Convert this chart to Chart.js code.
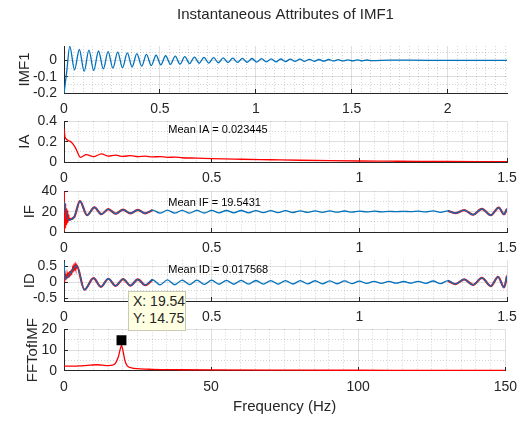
<!DOCTYPE html>
<html>
<head>
<meta charset="utf-8">
<script src="https://cdn.jsdelivr.net/npm/chart.js@4.4.0/dist/chart.umd.min.js"></script>
<style>
body { margin: 0; background: #fff; width: 529px; height: 421px; overflow: hidden; position: relative; }
canvas { position: absolute; left: 0; }
#tip { position: absolute; left: 128px; top: 291px; width: 58px; height: 40px; box-sizing: border-box;
       background: #ffffe1; border: 1px solid #c9c9b8; color: #262626; z-index: 5; white-space: nowrap;
       font: 14px "Liberation Sans", Arial, sans-serif; line-height: 17px; padding: 1px 0 0 4px; }
</style>
</head>
<body>
<canvas id="p1" width="529" height="123" style="top:0px"></canvas>
<canvas id="p2" width="529" height="90" style="top:102px"></canvas>
<canvas id="p3" width="529" height="90" style="top:172px"></canvas>
<canvas id="p4" width="529" height="90" style="top:241px"></canvas>
<canvas id="p5" width="529" height="111" style="top:310px"></canvas>
<div id="tip">X: 19.54<br>Y: 14.75</div>
<script>
// ** DATA ** //

// IMF1 vs time: [t, value] at the peaks / troughs
var imf1 = [
  [0, -0.205], [0.015, -0.06], [0.03, 0.085],
  [0.055, -0.058], [0.08, 0.066], [0.105, -0.068], [0.13, 0.062], [0.155, -0.062],
  [0.18, 0.057], [0.205, -0.053], [0.23, 0.053], [0.255, -0.048], [0.28, 0.05],
  [0.305, -0.045], [0.33, 0.045], [0.355, -0.04], [0.38, 0.041], [0.405, -0.036],
  [0.43, 0.036], [0.455, -0.032], [0.48, 0.031], [0.505, -0.028], [0.53, 0.028],
  [0.555, -0.025], [0.58, 0.025], [0.605, -0.023], [0.63, 0.022], [0.655, -0.02],
  [0.68, 0.02], [0.705, -0.018], [0.73, 0.018], [0.755, -0.017], [0.78, 0.016],
  [0.805, -0.015], [0.83, 0.015], [0.855, -0.014], [0.88, 0.013], [0.905, -0.013],
  [0.93, 0.012], [0.955, -0.012], [0.98, 0.011], [1.005, -0.011], [1.03, 0.01],
  [1.055, -0.01], [1.08, 0.009], [1.105, -0.009], [1.13, 0.008], [1.155, -0.008],
  [1.18, 0.007], [1.205, -0.007], [1.23, 0.007], [1.255, -0.006], [1.28, 0.006],
  [1.305, -0.006], [1.33, 0.005], [1.355, -0.005], [1.38, 0.005], [1.405, -0.004],
  [1.43, 0.004], [1.455, -0.004], [1.48, 0.003], [1.505, -0.003], [1.53, 0.003],
  [1.555, -0.003], [1.58, 0.002], [1.605, -0.002], [1.7, 0.001], [1.9, 0], [2.1, 0], [2.31, 0]
];

// instantaneous amplitude
var ia = [
  [0, 0.33], [0.004, 0.24], [0.02, 0.205], [0.037, 0.15], [0.056, 0.045], [0.075, 0.072],
  [0.1, 0.052], [0.127, 0.08], [0.15, 0.058], [0.175, 0.068], [0.2, 0.055], [0.225, 0.063],
  [0.25, 0.053], [0.275, 0.058], [0.3, 0.05], [0.325, 0.053], [0.35, 0.046], [0.375, 0.048],
  [0.4, 0.042], [0.45, 0.038], [0.5, 0.033], [0.6, 0.027], [0.7, 0.022], [0.8, 0.017],
  [0.9, 0.013], [1.0, 0.01], [1.1, 0.008], [1.2, 0.006], [1.3, 0.005], [1.4, 0.004], [1.5, 0.003]
];

// instantaneous frequency (blue) and the raw red trace at the start
var ifBlue = [
  [0, 30], [0.015, 12], [0.035, 15], [0.054, 30.5], [0.078, 16.5], [0.103, 24.3],
  [0.127, 17.5], [0.15, 22.6], [0.175, 18], [0.2, 22], [0.225, 18.3], [0.25, 21.8],
  [0.275, 18.4], [0.3, 21.6], [0.325, 18.5], [0.35, 21.5], [0.375, 18.6], [0.4, 21.4],
  [0.425, 18.6], [0.45, 21.3], [0.475, 18.7], [0.5, 21.3], [0.525, 18.8], [0.55, 21.2],
  [0.575, 18.8], [0.6, 21.2], [0.625, 18.9], [0.65, 21.1], [0.675, 19], [0.7, 21],
  [0.725, 19.1], [0.75, 21], [0.775, 19.2], [0.8, 20.9], [0.825, 19.3], [0.85, 20.8],
  [0.875, 19.4], [0.9, 20.8], [0.925, 19.5], [0.95, 20.7], [0.975, 19.6], [1.0, 20.6],
  [1.025, 19.8], [1.05, 20.5], [1.075, 19.9], [1.1, 20.4], [1.125, 20], [1.15, 20.4],
  [1.175, 20], [1.2, 20.5], [1.225, 19.8], [1.25, 20.8], [1.275, 19.3], [1.3, 20.8],
  [1.325, 18.5], [1.355, 21.5], [1.385, 17], [1.415, 22.8], [1.445, 16.5], [1.472, 24],
  [1.49, 17.5], [1.5, 23]
];
var ifRedStart = [
  [0, 1], [0.0007, 40], [0.0015, 3], [0.0025, 32], [0.0035, 4], [0.0045, 28], [0.0055, 6],
  [0.0065, 25], [0.0075, 7], [0.0085, 23], [0.0095, 8], [0.0105, 21], [0.0115, 9],
  [0.0125, 19], [0.0135, 10], [0.0145, 17], [0.0155, 11], [0.0165, 15], [0.0175, 12],
  [0.019, 14], [0.02, 12.5]
];

// instantaneous damping
var idBlue = [
  [0, 0.65], [0.004, 0.1], [0.02, 0.26], [0.043, 0.52], [0.069, -0.23], [0.1, 0.13],
  [0.125, -0.14], [0.15, 0.11], [0.175, -0.11], [0.2, 0.1], [0.225, -0.1], [0.25, 0.09],
  [0.275, -0.09], [0.3, 0.08], [0.325, -0.08], [0.35, 0.075], [0.375, -0.075], [0.4, 0.07],
  [0.425, -0.07], [0.45, 0.065], [0.475, -0.065], [0.5, 0.065], [0.525, -0.06], [0.55, 0.06],
  [0.575, -0.06], [0.6, 0.058], [0.625, -0.058], [0.65, 0.056], [0.675, -0.056], [0.7, 0.055],
  [0.725, -0.054], [0.75, 0.053], [0.775, -0.052], [0.8, 0.05], [0.825, -0.05], [0.85, 0.048],
  [0.875, -0.047], [0.9, 0.045], [0.925, -0.044], [0.95, 0.042], [0.975, -0.04], [1.0, 0.038],
  [1.025, -0.035], [1.05, 0.032], [1.075, -0.03], [1.1, 0.028], [1.125, -0.025], [1.15, 0.025],
  [1.175, -0.025], [1.2, 0.03], [1.225, -0.03], [1.25, 0.04], [1.275, -0.04], [1.3, 0.05],
  [1.325, -0.055], [1.355, 0.09], [1.385, -0.08], [1.415, 0.14], [1.445, -0.12], [1.47, 0.17],
  [1.49, -0.16], [1.5, 0.2]
];
var idRedStart = [
  [0, 0.03], [0.0015, 0.2], [0.003, 0.05], [0.0045, 0.22], [0.006, 0.08], [0.0075, 0.25],
  [0.009, 0.1], [0.0105, 0.27], [0.012, 0.13], [0.0135, 0.3], [0.015, 0.16], [0.0165, 0.32],
  [0.018, 0.19], [0.0195, 0.35], [0.021, 0.22], [0.0225, 0.37], [0.024, 0.25], [0.0255, 0.4],
  [0.027, 0.28], [0.0285, 0.42], [0.03, 0.31], [0.0315, 0.45], [0.033, 0.34], [0.0345, 0.47],
  [0.036, 0.37], [0.0375, 0.5], [0.039, 0.4], [0.0405, 0.52], [0.042, 0.44], [0.0435, 0.53],
  [0.045, 0.5]
];

// spectrum of the IMF
var fft = [
  [0, 2.3], [3, 2.3], [6, 2.5], [9, 2.8], [11, 3.0], [13, 2.8], [15, 2.6], [16.5, 2.8],
  [17.5, 3.8], [18.5, 7], [19.2, 11], [19.54, 12.3], [20, 10], [20.7, 5], [21.5, 2.5],
  [23, 1.5], [25, 1.1], [30, 0.8], [40, 0.6], [50, 0.5], [75, 0.4], [100, 0.35],
  [125, 0.3], [150, 0.25]
];
var peakTip = [[19.54, 14.75]];

var meanLabels = ['Mean IA = 0.023445', 'Mean IF = 19.5431', 'Mean ID = 0.017568'];

// ** HELPERS ** //

var FONT = '"Liberation Sans", Arial, sans-serif';
var INK = '#262626';
var BLUE = '#0072BD';
var RED = '#FF0000';
var PLOT_RIGHT = 507;

function isMajor(v, step) {
	var r = v / step;
	return Math.abs(r - Math.round(r)) < 1e-6;
}

function fmt(v) {
	return String(Math.round(v * 1000) / 1000);
}

function pts(a) {
	return a.map(function (p) { return { x: p[0], y: p[1] }; });
}

// red trace that shows under the blue one only near the ends
function redPart(a) {
	var out = [];
	for (var i = 0; i < a.length; i++) {
		if (a[i][0] >= 0.015 && a[i][0] <= 0.3) out.push(a[i]);
	}
	out.push([0.8, null]);
	for (var j = 0; j < a.length; j++) {
		if (a[j][0] >= 1.3) out.push(a[j]);
	}
	return out;
}

function line(data, color, width, smooth, order) {
	return {
		data: pts(data), borderColor: color, borderWidth: width, pointRadius: 0,
		fill: false, tension: 0, order: order,
		cubicInterpolationMode: smooth ? 'monotone' : 'default'
	};
}

function scale(pos, min, max, major, minor, size, title) {
	return {
		type: 'linear', position: pos, min: min, max: max,
		afterFit: function (a) { if (pos === 'left') a.width = size; else a.height = size; },
		ticks: {
			stepSize: minor, maxTicksLimit: 1000, autoSkip: false, includeBounds: false,
			maxRotation: 0, minRotation: 0,
			padding: pos === 'left' ? 11 : 12,
			color: INK, font: { family: FONT, size: 14 },
			callback: function (v) { return isMajor(v, major) ? fmt(v) : ''; }
		},
		grid: {
			lineWidth: 1, tickLength: -4, tickWidth: 1,
			color: function (c) { return c.tick && isMajor(c.tick.value, major) ? 'rgba(38,38,38,0.15)' : 'rgba(38,38,38,0.2)'; },
			tickColor: function (c) { return c.tick && isMajor(c.tick.value, major) ? INK : 'rgba(0,0,0,0)'; }
		},
		border: {
			color: INK, width: 1,
			dash: function (c) { return c.tick && !isMajor(c.tick.value, major) ? [1, 2] : []; }
		},
		title: title || { display: false }
	};
}

function yTitle(text) {
	return { display: true, text: text, color: INK, padding: 0, font: { family: FONT, size: 15 } };
}

var meanText = {
	id: 'meanText',
	afterDatasetsDraw: function (chart, args, opts) {
		if (!opts.text) return;
		var ctx = chart.ctx;
		ctx.save();
		ctx.font = '11px ' + FONT;
		ctx.fillStyle = '#000';
		ctx.textBaseline = 'middle';
		ctx.fillText(opts.text, chart.scales.x.getPixelForValue(opts.x), chart.scales.y.getPixelForValue(opts.y));
		ctx.restore();
	}
};

function generateGraph(id, datasets, xs, ys, padLeft, padTop, extra) {
	var plugins = { legend: { display: false }, tooltip: { enabled: false }, meanText: extra.mean || {} };
	if (extra.title) plugins.title = extra.title;
	new Chart(document.getElementById(id), {
		type: 'line',
		data: { datasets: datasets },
		options: {
			responsive: false, animation: false, devicePixelRatio: 1, events: [],
			layout: { padding: { left: padLeft, right: 529 - PLOT_RIGHT, top: padTop, bottom: 0 } },
			scales: { x: xs, y: ys },
			plugins: plugins
		},
		plugins: [meanText]
	});
}

// ** ENTRY POINT: ** //

generateGraph('p1',
	[line(imf1, BLUE, 1.3, true, 0)],
	scale('bottom', 0, 2.31, 0.5, 0.05, 30),
	scale('left', -0.2, 0.0875, 0.1, 0.05, 64 - 16, yTitle('IMF1')),
	16, 0,
	{ title: { display: true, text: 'Instantaneous Attributes of IMF1', color: INK, fullSize: false,
	           font: { family: FONT, size: 15, weight: 'normal' }, padding: { top: 6, bottom: 22 } } });

generateGraph('p2',
	[line(ia, RED, 1.3, true, 0)],
	scale('bottom', 0, 1.5, 0.5, 0.05, 30),
	scale('left', 0, 0.4, 0.2, 0.1, 64 - 16, yTitle('IA')),
	16, 14,
	{ mean: { text: meanLabels[0], x: 0.353, y: 0.313 } });

generateGraph('p3',
	[line(ifBlue, BLUE, 1.3, true, 0),
	 line(redPart(ifBlue), RED, 2.2, true, 1),
	 line(ifRedStart, RED, 1, false, 1)],
	scale('bottom', 0, 1.5, 0.5, 0.05, 30),
	scale('left', 0, 40, 20, 10, 64 - 21, yTitle('IF')),
	21, 14,
	{ mean: { text: meanLabels[1], x: 0.353, y: 28.4 } });

generateGraph('p4',
	[line(idBlue, BLUE, 1.3, true, 0),
	 line(redPart(idBlue), RED, 2.2, true, 1),
	 line(idRedStart, RED, 1.2, false, 1)],
	scale('bottom', 0, 1.5, 0.5, 0.05, 30),
	scale('left', -0.58, 0.68, 0.5, 0.25, 64 - 21, yTitle('ID')),
	21, 14,
	{ mean: { text: meanLabels[2], x: 0.353, y: 0.37 } });

var marker = {
	data: pts(peakTip), showLine: false, pointStyle: 'rect', pointRadius: 7,
	pointBackgroundColor: '#000', pointBorderColor: '#000', pointBorderWidth: 0, order: 0
};
generateGraph('p5',
	[marker, line(fft, RED, 1.3, true, 1)],
	scale('bottom', 0, 150, 50, 5, 50,
		{ display: true, text: 'Frequency (Hz)', color: INK, font: { family: FONT, size: 15 }, padding: { top: 0, bottom: 5 } }),
	scale('left', 0, 20, 10, 5, 64 - 24, yTitle('FFTofIMF')),
	24, 14,
	{});
</script>
</body>
</html>
